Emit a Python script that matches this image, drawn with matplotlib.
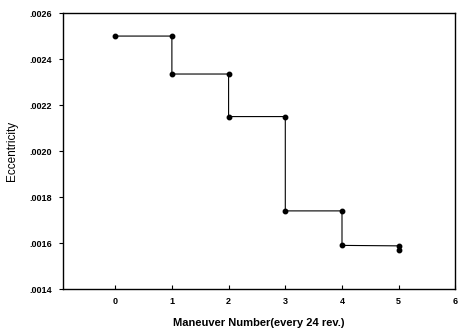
import matplotlib
matplotlib.use("Agg")
import matplotlib.pyplot as plt
from matplotlib.ticker import FuncFormatter

# Data (step path of eccentricity across maneuvers)
maneuver_x = [0, 1, 1, 2, 2, 3, 3, 4, 4, 5, 5]
eccentricity = [0.00250, 0.00250, 0.002335, 0.002335, 0.00215, 0.00215,
                0.00174, 0.00174, 0.00159, 0.001588, 0.001572]
x_ticks = [0, 1, 2, 3, 4, 5, 6]
y_ticks = [0.0014, 0.0016, 0.0018, 0.0020, 0.0022, 0.0024, 0.0026]

plt.rcParams['font.family'] = ['Liberation Sans', 'DejaVu Sans']

fig = plt.figure(figsize=(4.6, 3.35), dpi=100)
ax = fig.add_axes([0.137, 0.137, 0.853, 0.824])

ax.plot(maneuver_x, eccentricity, color='black', lw=0.8,
        marker='o', ms=3.2, mfc='black', mec='black')

ax.set_xlim(-0.92, 6)
ax.set_ylim(0.0014, 0.0026)
ax.set_xticks(x_ticks)
ax.set_yticks(y_ticks)
ax.yaxis.set_major_formatter(FuncFormatter(lambda v, p: ("%.4f" % v)[1:]))
ax.tick_params(axis='x', direction='in', length=3, labelsize=6.5, pad=6)
ax.tick_params(axis='y', direction='out', length=3, labelsize=6.5, pad=5)
for lab in ax.get_xticklabels() + ax.get_yticklabels():
    lab.set_fontweight('bold')

for s in ax.spines.values():
    s.set_linewidth(1.0)

ax.set_xlabel('Maneuver Number(every 24 rev.)', fontsize=8, fontweight='bold', labelpad=8)
ax.set_ylabel('Eccentricity', fontsize=8.5, labelpad=8)

fig.savefig('out.png', dpi=100)
